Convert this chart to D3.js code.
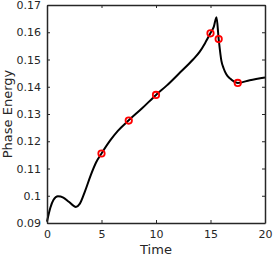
<!DOCTYPE html>
<html>
<head>
<meta charset="utf-8">
<script src="https://cdn.jsdelivr.net/npm/d3@7"></script>
<style>
body { margin: 0; background: #fff; }
text { font-family: "DejaVu Sans", sans-serif; fill: #262626; }
</style>
</head>
<body>
<div class="content"></div>
<script>
// curve samples
var time = [0, 0.3, 0.6, 1.0, 1.5, 2.0, 2.65, 3.0, 3.5, 4.0, 4.5, 5.0, 5.8, 6.5, 7.5, 8.7, 10, 11, 12.2, 13.4, 14.0, 14.5, 15.0, 15.3, 15.55, 15.75, 16.0, 16.2, 16.45, 16.8, 17.5, 18.6, 20];
var energy = [0.0905, 0.0955, 0.0985, 0.0998, 0.0993, 0.0978, 0.0959, 0.0970, 0.1018, 0.1074, 0.1122, 0.1155, 0.1203, 0.1238, 0.1277, 0.1320, 0.1370, 0.1405, 0.1452, 0.1500, 0.1528, 0.1560, 0.1597, 0.1620, 0.1655, 0.1575, 0.1495, 0.1468, 0.1446, 0.1430, 0.1414, 0.1424, 0.1434];
// red circle markers
var markT = [5, 7.5, 10, 15, 15.75, 17.5];
var markE = [0.1155, 0.1276, 0.1370, 0.1596, 0.1575, 0.1414];
var xTicks = [0, 5, 10, 15, 20];
var yTicks = [0.09, 0.1, 0.11, 0.12, 0.13, 0.14, 0.15, 0.16, 0.17];

var width = 273, height = 256;
var pL = 47, pR = 265, pT = 5, pB = 223;
var svg = d3.select(".content").append("svg").attr("width", width).attr("height", height);

var x = d3.scaleLinear().domain([0, 20]).range([pL, pR]);
var y = d3.scaleLinear().domain([0.09, 0.17]).range([pB, pT]);

var data = time.map(function(t, i){ return {t: t, e: energy[i]}; });
var marks = markT.map(function(t, i){ return {t: t, e: markE[i]}; });

var line = d3.line().x(function(d){ return x(d.t); }).y(function(d){ return y(d.e); }).curve(d3.curveMonotoneX);

svg.append("path").datum(data).attr("d", line)
	.attr("stroke", "black").attr("stroke-width", 2).attr("fill", "none");

svg.selectAll(".mk").data(marks).enter().append("circle")
	.attr("cx", function(d){ return x(d.t); })
	.attr("cy", function(d){ return y(d.e); })
	.attr("r", 3.2).attr("fill", "none").attr("stroke", "#ff0000").attr("stroke-width", 1.8);

function styleAxis(g) {
	g.selectAll("path").attr("stroke", "#262626").attr("stroke-width", 1.5);
	g.selectAll("line").attr("stroke", "#262626").attr("stroke-width", 1);
	g.selectAll("text").attr("font-size", 11).style("fill", "#262626");
}

var fmt = function(d){ return String(+d.toFixed(2)); };

svg.append("g").attr("transform", "translate(0," + pB + ")")
	.call(d3.axisBottom(x).tickValues(xTicks).tickSizeInner(-3).tickSizeOuter(0).tickPadding(7))
	.call(styleAxis);
svg.append("g").attr("transform", "translate(0," + pT + ")")
	.call(d3.axisTop(x).tickValues(xTicks).tickSizeInner(-3).tickSizeOuter(0).tickFormat(""))
	.call(styleAxis);
svg.append("g").attr("transform", "translate(" + pL + ",0)")
	.call(d3.axisLeft(y).tickValues(yTicks).tickSizeInner(-3).tickSizeOuter(0).tickPadding(6).tickFormat(fmt))
	.call(styleAxis);
svg.append("g").attr("transform", "translate(" + pR + ",0)")
	.call(d3.axisRight(y).tickValues(yTicks).tickSizeInner(-3).tickSizeOuter(0).tickFormat(""))
	.call(styleAxis);

svg.append("text").attr("x", (pL + pR) / 2).attr("y", 254)
	.attr("text-anchor", "middle").attr("font-size", 13).text("Time");
svg.append("text").attr("transform", "translate(12," + (pT + pB) / 2 + ") rotate(-90)")
	.attr("text-anchor", "middle").attr("font-size", 13).text("Phase Energy");
</script>
</body>
</html>
